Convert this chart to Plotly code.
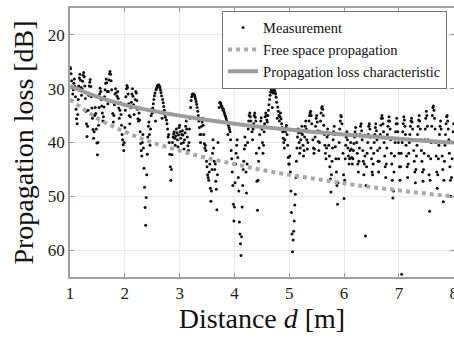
import plotly.graph_objects as go

# ---- data ----
sample_start_m = 1.0
sample_step_m = 0.01
measured_loss_db = [
    26.0, 26.3, 27.2, 28.5, 29.8, 31.0, 30.2, 29.0, 28.2, 29.6,
    31.5, 33.8, 35.6, 36.5, 34.8, 32.0, 29.5, 28.0, 27.3, 28.4,
    29.8, 31.2, 30.0, 28.6, 27.5, 27.0, 27.8, 29.5, 31.8, 34.2,
    36.5, 38.9, 37.0, 34.0, 31.2, 29.5, 28.8, 28.3, 29.6, 31.5,
    33.6, 35.5, 37.6, 39.2, 38.0, 35.0, 33.5, 34.6, 37.5, 40.1,
    42.3, 40.0, 36.8, 33.5, 31.0, 29.9, 30.5, 32.0, 33.2, 34.5,
    36.0, 35.2, 33.4, 31.5, 30.2, 29.0, 28.2, 28.9, 30.5, 32.8,
    30.5, 28.4, 27.2, 26.8, 27.3, 28.5, 30.2, 32.4, 34.6, 36.2,
    35.0, 33.0, 31.0, 30.0, 30.8, 32.5, 31.4, 30.5, 31.8, 33.6,
    35.5, 34.0, 32.6, 34.8, 36.8, 38.5, 39.5, 40.4, 41.5, 40.0,
    37.2, 34.0, 31.5, 30.0, 29.4, 29.8, 31.0, 32.8, 35.0, 36.5,
    35.2, 33.5, 32.5, 31.0, 30.0, 31.4, 33.0, 34.8, 33.5, 32.0,
    30.5, 30.8, 32.2, 33.8, 35.6, 36.0, 34.5, 35.8, 38.0, 40.2,
    41.5, 42.5, 40.0, 38.5, 41.0, 44.8, 48.3, 52.1, 55.4, 50.2,
    46.0, 42.2, 39.0, 37.0, 36.2, 38.5, 40.5, 37.5, 35.0, 33.8,
    34.5, 33.6, 32.8, 32.0, 31.3, 30.8, 36.0, 30.2, 29.9, 29.6,
    29.4, 29.3, 29.3, 29.5, 29.8, 30.2, 30.7, 31.3, 35.5, 32.0,
    32.6, 33.3, 34.0, 34.8, 35.3, 34.6, 35.8, 36.5, 37.5, 39.0,
    38.5, 40.0, 42.2, 44.5, 47.0, 45.0, 42.3, 40.0, 39.0, 38.4,
    38.0, 39.2, 40.5, 38.8, 37.5, 38.2, 39.5, 40.8, 38.6, 37.2,
    36.8, 38.0, 39.2, 40.2, 38.5, 37.8, 38.6, 40.0, 41.2, 39.5,
    38.2, 37.0, 36.0, 37.5, 39.0, 40.6, 41.5, 40.0, 37.5, 35.5,
    33.5, 32.2, 31.5, 31.1, 31.0, 31.0, 31.1, 31.2, 31.5, 31.9,
    32.4, 32.9, 33.5, 34.2, 35.0, 36.0, 37.2, 38.5, 40.0, 38.5,
    37.0, 36.2, 35.5, 36.8, 38.5, 40.2, 41.0, 40.5, 41.5, 43.5,
    44.5, 46.0, 46.5, 47.0, 45.5, 44.0, 48.5, 50.9, 49.0, 45.0,
    42.0, 39.5, 41.0, 43.5, 45.0, 44.0, 47.2, 48.7, 52.5, 46.0,
    40.0, 36.0, 33.5, 32.6, 32.5, 32.8, 33.1, 33.3, 33.6, 34.0,
    33.8, 34.3, 34.6, 35.0, 35.2, 35.6, 36.0, 36.3, 38.5, 36.8,
    37.2, 37.6, 38.0, 39.5, 41.5, 43.0, 45.5, 48.0, 51.5, 54.6,
    52.0, 47.5, 44.0, 42.0, 40.5, 39.5, 42.8, 46.5, 49.0, 54.8,
    57.0, 58.8, 61.0, 57.5, 52.0, 48.0, 45.0, 43.5, 41.2, 39.0,
    40.5, 45.5, 49.4, 44.0, 40.0, 37.5, 36.0, 35.0, 34.5, 35.2,
    36.0, 37.0, 38.0, 39.5, 37.5, 36.5, 35.0, 34.5, 35.3, 36.0,
    42.0, 47.2, 52.6, 47.0, 43.5, 41.0, 38.5, 37.0, 36.0, 35.4,
    37.5, 40.0, 42.0, 40.5, 38.0, 36.5, 35.2, 34.5, 35.0, 35.8,
    36.2, 35.0, 34.0, 33.0, 32.0, 31.2, 30.6, 30.2, 30.5, 33.5,
    30.8, 30.4, 30.2, 30.3, 30.6, 31.0, 31.6, 32.5, 35.5, 33.4,
    34.2, 35.0, 36.0, 35.2, 34.5, 35.6, 36.5, 37.2, 38.0, 39.2,
    40.0, 41.0, 39.5, 38.0, 37.2, 36.8, 38.5, 40.5, 42.8, 44.0,
    44.0, 42.5, 45.5, 49.0, 53.0, 57.0, 60.3, 58.1, 56.5, 54.6,
    51.6, 49.6, 46.5, 43.5, 41.0, 39.0, 37.5, 38.2, 40.0, 42.0,
    41.0, 39.5, 38.2, 37.0, 38.5, 40.5, 42.5, 41.5, 39.0, 37.0,
    36.0, 37.5, 39.5, 41.2, 40.0, 38.0, 36.0, 35.0, 34.5, 34.2,
    35.0, 36.5, 38.0, 39.5, 41.0, 42.0, 41.2, 39.0, 37.0, 35.5,
    35.0, 36.2, 37.8, 39.8, 41.5, 40.0, 38.0, 36.0, 34.5, 33.6,
    33.3, 33.8, 35.0, 36.8, 38.5, 40.5, 42.0, 43.0, 41.0, 39.0,
    37.5, 38.5, 40.5, 42.5, 44.5, 46.8, 49.2, 46.0, 43.5, 41.0,
    39.5, 38.0, 37.0, 38.5, 40.8, 43.0, 45.5, 48.0, 51.5, 47.5,
    43.0, 40.0, 37.5, 36.0, 35.0, 35.2, 36.5, 38.5, 42.0, 46.0,
    50.4, 47.0, 43.0, 40.5, 39.0, 38.0, 39.5, 41.0, 42.5, 44.0,
    43.0, 41.5, 40.0, 41.2, 42.8, 44.0, 43.0, 41.5, 40.2, 39.0,
    38.0, 37.2, 38.5, 40.0, 42.0, 44.0, 45.5, 43.5, 41.0, 38.5,
    37.0, 36.5, 37.8, 39.5, 41.5, 43.5, 46.0, 44.0, 42.5, 57.4,
    48.0, 44.5, 42.0, 40.0, 38.5, 37.0, 36.5, 37.5, 39.0, 41.0,
    43.0, 45.5, 46.0, 44.0, 42.0, 40.0, 38.5, 37.2, 36.5, 37.8,
    39.5, 41.5, 43.5, 45.5, 43.5, 41.0, 38.5, 36.8, 35.5, 35.0,
    35.5, 36.5, 38.0, 40.0, 42.5, 44.5, 46.5, 44.0, 41.0, 38.5,
    37.0, 36.0, 35.2, 36.0, 37.5, 39.5, 42.0, 44.0, 47.0, 50.3,
    49.0, 45.5, 42.5, 40.0, 38.0, 36.5, 35.5, 36.5, 38.0, 40.0,
    42.0, 44.5, 47.0, 44.5, 42.0, 64.5, 40.0, 38.0, 36.5, 35.2,
    35.8, 37.0, 38.5, 40.5, 42.5, 44.5, 46.5, 44.0, 42.0, 40.0,
    38.5, 37.0, 36.0, 35.5, 36.2, 37.5, 39.5, 41.5, 43.5, 45.5,
    47.5, 45.0, 42.5, 40.5, 38.5, 37.0, 35.8, 35.0, 36.0, 37.5,
    39.5, 41.5, 43.5, 45.5, 47.2, 45.0, 42.0, 39.5, 37.5, 35.5,
    34.2, 35.0, 37.0, 39.5, 42.5, 46.0, 52.8, 47.0, 43.0, 40.0,
    37.0, 35.0, 33.5, 33.2, 34.0, 35.5, 37.5, 40.0, 42.5, 45.5,
    48.5, 46.0, 43.0, 40.5, 38.5, 37.0, 36.0, 37.5, 40.0, 42.5,
    45.0, 51.0, 47.0, 43.5, 40.5, 38.5, 36.5, 35.2, 35.0, 36.0,
    37.5, 39.5, 42.0, 44.5, 47.0, 50.0, 46.5, 43.0, 40.0, 38.0,
    36.5,
]

curve_dist_m = [1.0, 1.5, 2.0, 2.5, 3.0, 3.5, 4.0, 4.5, 5.0, 5.5, 6.0, 6.5, 7.0, 7.5, 8.0]
free_space_db = [32.0, 35.5, 38.0, 40.0, 41.5, 42.9, 44.0, 45.1, 46.0, 46.8, 47.6, 48.3, 48.9, 49.5, 50.0]
loss_char_db = [29.5, 31.5, 33.0, 34.1, 35.0, 35.8, 36.5, 37.1, 37.6, 38.1, 38.5, 38.9, 39.3, 39.7, 40.0]

x_ticks = [1, 2, 3, 4, 5, 6, 7, 8]
y_ticks = [20, 30, 40, 50, 60]

SERIF = "Times New Roman, Liberation Serif, serif"

fig = go.Figure()
fig.add_trace(go.Scatter(
    x0=sample_start_m, dx=sample_step_m, y=measured_loss_db,
    mode="markers", name="Measurement",
    marker=dict(color="#111111", size=3),
))
fig.add_trace(go.Scatter(
    x=curve_dist_m, y=free_space_db, mode="lines",
    name="Free space propagation",
    line=dict(color="#a9a9a9", width=4, dash="4px,4px", shape="spline"),
))
fig.add_trace(go.Scatter(
    x=curve_dist_m, y=loss_char_db, mode="lines",
    name="Propagation loss characteristic",
    line=dict(color="#9c9c9c", width=4, shape="spline"),
))

axis_common = dict(
    showline=True, linecolor="#a0a0a0", linewidth=1.5, mirror="ticks",
    ticks="inside", ticklen=4, tickcolor="#999999",
    showgrid=True, gridcolor="#e9e9e9", gridwidth=1, zeroline=False,
    tickfont=dict(family=SERIF, size=17, color="#222222"),
    automargin=False,
)

fig.update_layout(
    width=454, height=339,
    margin=dict(l=70, r=0, t=8, b=62),
    paper_bgcolor="white", plot_bgcolor="white",
    font=dict(family=SERIF, color="#111111"),
    xaxis=dict(range=[1, 8.005], tickvals=x_ticks, ticklabeloverflow="allow",
               title=dict(text="Distance <i>d</i> [m]",
                          font=dict(family=SERIF, size=28, color="#111111"),
                          standoff=6),
               **axis_common),
    yaxis=dict(range=[65, 15], tickvals=y_ticks,
               title=dict(text="Propagation loss [dB]",
                          font=dict(family=SERIF, size=28, color="#111111"),
                          standoff=6),
               **axis_common),
    legend=dict(x=0.982, y=0.99, xanchor="right", yanchor="top",
                bgcolor="white", bordercolor="#777777", borderwidth=1,
                font=dict(family=SERIF, size=14.5, color="#111111"),
                itemwidth=30, tracegroupgap=0),
    showlegend=True,
)

fig.write_html("out.html")
